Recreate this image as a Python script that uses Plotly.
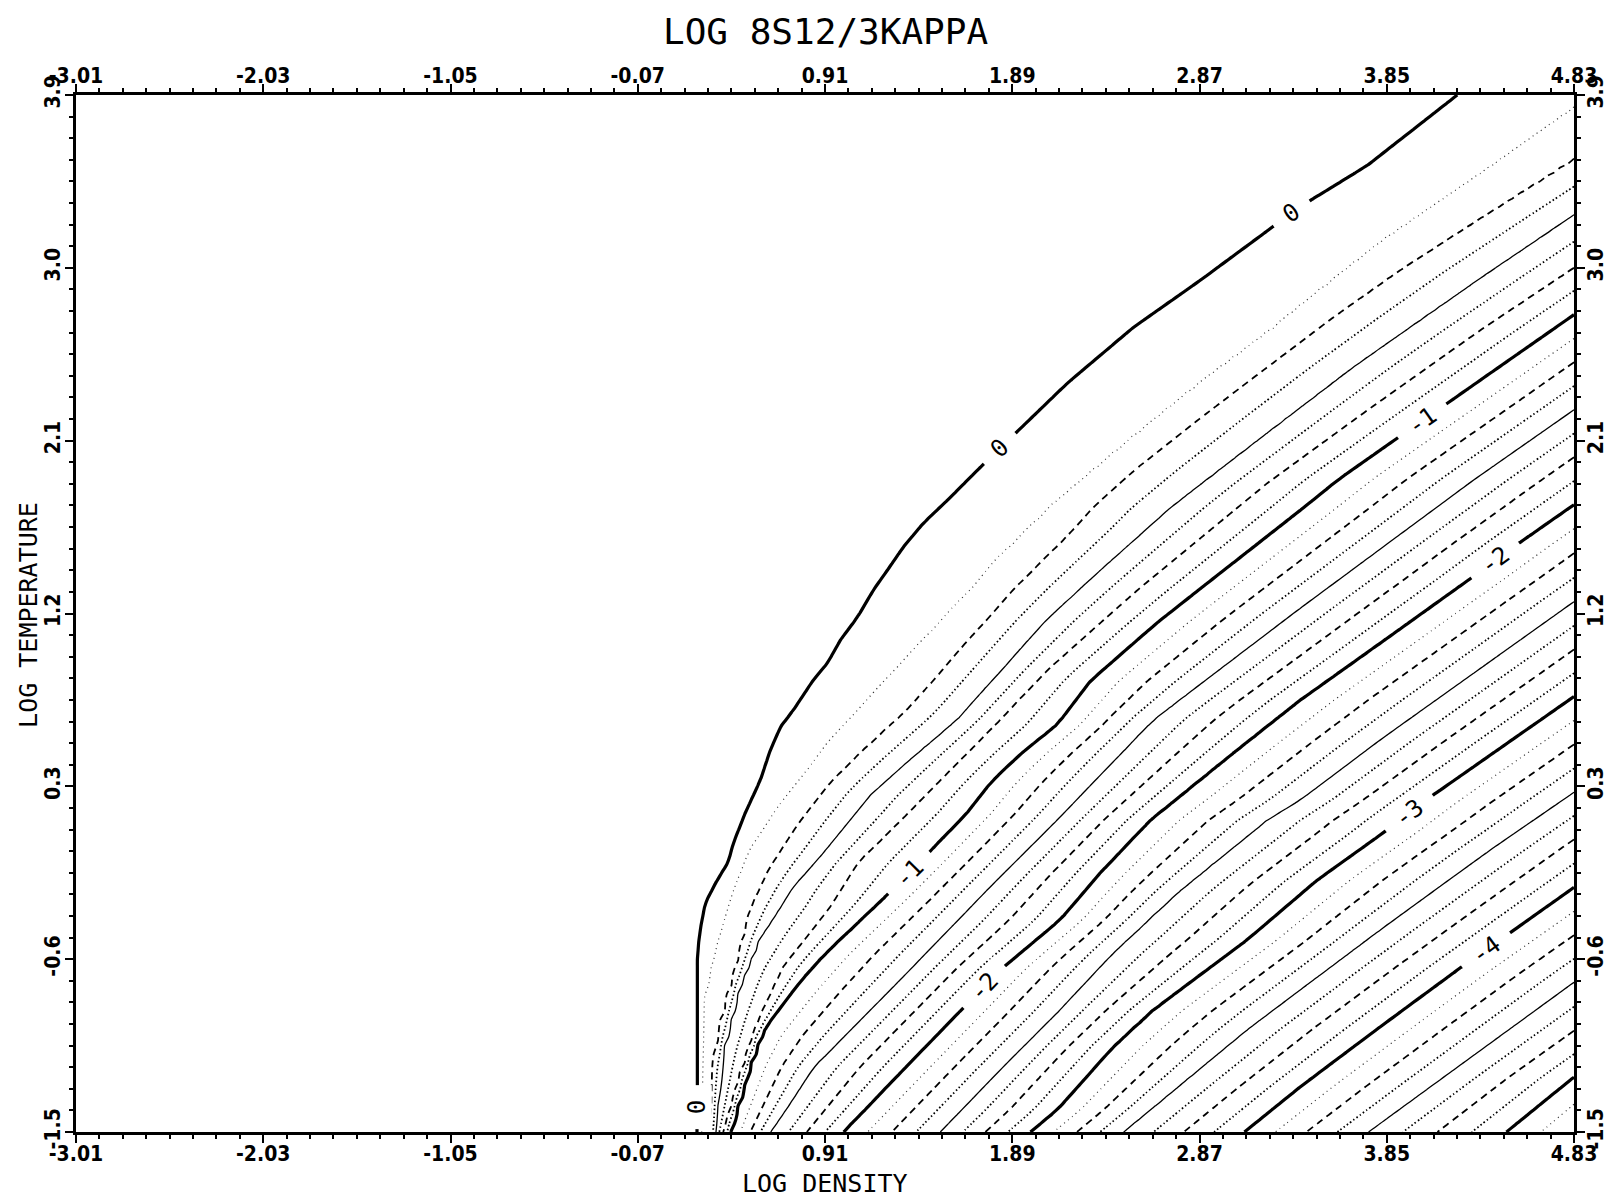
import numpy as np
import plotly.graph_objects as go

TITLE = "LOG 8S12/3KAPPA"
X_TITLE = "LOG DENSITY"
Y_TITLE = "LOG TEMPERATURE"

x_tick_vals = [-3.01, -2.03, -1.05, -0.07, 0.91, 1.89, 2.87, 3.85, 4.83]
x_tick_text = ["-3.01", "-2.03", "-1.05", "-0.07", "0.91", "1.89", "2.87", "3.85", "4.83"]
y_tick_vals = [-1.5, -0.6, 0.3, 1.2, 2.1, 3.0, 3.9]
y_tick_text = ["-1.5", "-0.6", "0.3", "1.2", "2.1", "3.0", "3.9"]

# Contour lines: log density (x) and log temperature (t) per level
lvl_0_x = [0.240, 0.242, 0.242, 0.250, 0.262, 0.284, 0.345, 0.404, 0.431, 0.493, 0.572, 0.624, 0.677, 0.745, 0.849,
           0.923, 0.991, 1.080, 1.163, 1.237, 1.320, 1.425, 1.551, 1.760, 1.896, 2.178, 2.524, 2.874, 3.277, 3.434,
           3.748, 4.219, 4.606]
lvl_0_t = [-1.5, -1.264, -0.603, -0.500, -0.420, -0.307, -0.19, -0.093, 0.006, 0.162, 0.333, 0.489, 0.609, 0.698,
           0.854, 0.942, 1.062, 1.181, 1.322, 1.426, 1.546, 1.671, 1.790, 1.998, 2.128, 2.399, 2.690, 2.935, 3.231,
           3.341, 3.533, 3.9, 4.2]
lvl_0125_x = [0.253, 0.258, 0.274, 0.336, 0.431, 0.504, 0.661, 0.818, 0.923, 1.289, 1.671, 1.791, 2.090, 2.524, 2.874,
              3.225, 3.502, 3.832, 4.329, 4.774, 5.358]
lvl_0125_t = [-1.5, -1.243, -0.811, -0.551, -0.239, -0.046, 0.193, 0.385, 0.526, 0.921, 1.322, 1.462, 1.754, 2.118, 2.399,
              2.659, 2.883, 3.143, 3.481, 3.793, 4.2]
lvl_025_x = [0.309, 0.326, 0.378, 0.451, 0.519, 0.624, 0.776, 0.938, 1.085, 1.357, 1.603, 1.896, 2.210, 2.315, 2.529,
             2.874, 3.225, 3.570, 3.921, 4.329, 4.826, 5.767]
lvl_025_t = [-1.5, -1.160, -0.900, -0.640, -0.343, -0.119, 0.110, 0.318, 0.463, 0.713, 0.994, 1.322, 1.634, 1.754, 1.946,
             2.217, 2.482, 2.742, 2.987, 3.247, 3.559, 4.2]
lvl_05_x = [0.336, 0.378, 0.467, 0.572, 0.745, 0.902, 1.148, 1.336, 1.603, 2.069, 2.335, 2.717, 3.225, 3.675, 4.340,
            4.826, 6.203]
lvl_05_t = [-1.5, -1.071, -0.723, -0.483, -0.223, -0.046, 0.255, 0.422, 0.646, 1.166, 1.410, 1.749, 2.139, 2.482, 2.945,
            3.273, 4.2]
lvl_075_x = [0.378, 0.483, 0.572, 0.692, 0.818, 0.938, 1.085, 1.320, 1.723, 2.074, 2.545, 3.225, 3.748, 4.340, 4.826,
             6.640]
lvl_075_t = [-1.5, -1.160, -0.900, -0.640, -0.483, -0.328, -0.093, 0.136, 0.542, 0.906, 1.322, 1.879, 2.258, 2.675, 2.997,
             4.2]
lvl_1_x = [0.415, 0.519, 0.572, 0.745, 0.902, 1.226, 1.414, 1.655, 1.760, 1.828, 1.948, 2.131, 2.299, 2.561, 2.665,
           3.398, 3.607, 3.905, 4.115, 4.340, 4.826, 6.908]
lvl_1_t = [-1.5, -1.139, -0.993, -0.759, -0.577, -0.275, -0.088, 0.162, 0.297, 0.370, 0.479, 0.625, 0.849, 1.077, 1.166,
           1.738, 1.905, 2.113, 2.258, 2.415, 2.753, 4.2]
lvl_15_x = [0.624, 0.854, 1.305, 1.775, 2.126, 2.628, 3.398, 4.303, 4.826, 7.616]
lvl_15_t = [-1.5, -1.160, -0.707, -0.223, 0.125, 0.646, 1.228, 1.894, 2.258, 4.2]
lvl_2_x = [1.006, 1.305, 1.634, 1.828, 2.142, 2.351, 2.613, 3.047, 3.398, 3.816, 4.313, 4.512, 4.826, 8.326]
lvl_2_t = [-1.5, -1.191, -0.853, -0.655, -0.395, -0.150, 0.125, 0.474, 0.750, 1.046, 1.400, 1.546, 1.764, 4.2]
lvl_25_x = [1.514, 1.828, 2.126, 2.419, 2.754, 3.225, 3.398, 3.816, 4.826, 9.05]
lvl_25_t = [-1.5, -1.176, -0.879, -0.567, -0.255, 0.125, 0.229, 0.542, 1.259, 4.2]
lvl_3_x = [1.985, 2.126, 2.419, 2.628, 3.120, 3.487, 3.832, 4.041, 4.826, 9.76]
lvl_3_t = [-1.5, -1.384, -1.056, -0.863, -0.499, -0.187, 0.058, 0.219, 0.765, 4.2]
lvl_35_x = [2.471, 3.120, 3.398, 3.816, 4.392, 4.826, 10.48]
lvl_35_t = [-1.5, -0.967, -0.759, -0.447, -0.031, 0.266, 4.2]
lvl_4_x = [3.105, 3.398, 3.816, 4.235, 4.444, 4.826, 11.19]
lvl_4_t = [-1.5, -1.264, -0.952, -0.645, -0.499, -0.229, 4.2]
lvl_45_x = [3.754, 4.826, 11.90]
lvl_45_t = [-1.5, -0.723, 4.2]
lvl_5_x = [4.476, 4.826, 12.61]
lvl_5_t = [-1.5, -1.217, 4.2]

contour_levels = [0, -0.125, -0.25, -0.5, -0.75, -1, -1.5, -2, -2.5, -3, -3.5, -4, -4.5, -5]
contour_lines = [(lvl_0_x, lvl_0_t), (lvl_0125_x, lvl_0125_t), (lvl_025_x, lvl_025_t), (lvl_05_x, lvl_05_t),
                 (lvl_075_x, lvl_075_t), (lvl_1_x, lvl_1_t), (lvl_15_x, lvl_15_t), (lvl_2_x, lvl_2_t),
                 (lvl_25_x, lvl_25_t), (lvl_3_x, lvl_3_t), (lvl_35_x, lvl_35_t), (lvl_4_x, lvl_4_t),
                 (lvl_45_x, lvl_45_t), (lvl_5_x, lvl_5_t)]

label_text = ["0", "0", "0", "-1", "-1", "-2", "-2", "-3", "-4"]
label_x = [0.240, 1.825, 3.351, 4.035, 1.352, 4.419, 1.741, 3.967, 4.370]
label_t = [-1.368, 2.061, 3.283, 2.205, -0.150, 1.478, -0.744, 0.162, -0.551]
label_angle = [-90, -44, -35, -35, -45, -36, -46, -38, -36]

# ---- build the z table for the contour trace from the read contour lines ----
x_grid = np.linspace(-3.01, 4.83, 225)
t_grid = np.linspace(-1.5, 3.9, 121)
lv = np.array(contour_levels, dtype=float)
cross = np.empty((t_grid.size, lv.size))
for k, (lx, lt) in enumerate(contour_lines):
    lx = np.asarray(lx, float)
    lt = np.asarray(lt, float)
    o = np.argsort(lt)
    cross[:, k] = np.interp(t_grid, lt[o], lx[o])
cross = np.maximum.accumulate(cross, axis=1) + np.arange(lv.size) * 1e-6
z = np.empty((t_grid.size, x_grid.size))
for j in range(t_grid.size):
    xc = cross[j]
    row = np.interp(x_grid, xc, lv)
    s0 = (lv[0] - lv[1]) / (xc[1] - xc[0])
    left = x_grid < xc[0]
    row[left] = np.minimum(lv[0] + (xc[0] - x_grid[left]) * s0, 1.0)
    s1 = (lv[-2] - lv[-1]) / (xc[-1] - xc[-2])
    right = x_grid > xc[-1]
    row[right] = lv[-1] - (x_grid[right] - xc[-1]) * s1
    z[j] = row

MONO = "DejaVu Sans Mono, monospace"
TICKF = "Liberation Sans Narrow, DejaVu Sans Condensed, Arial Narrow, sans-serif"

fig = go.Figure()

line_styles = [
    (-5.0, 0.0, 1.0, 3.2, "solid", "black"),
    (-4.5, -0.5, 1.0, 1.3, "solid", "black"),
    (-5.25, -0.25, 0.5, 1.8, "7px,5px", "black"),
    (-5.375, -0.375, 0.5, 1.8, "1.5px,2.5px", "black"),
    (-5.625, -0.625, 1.0, 1.8, "1.5px,2.5px", "black"),
    (-5.125, -0.125, 1.0, 1.2, "1px,4px", "#333333"),
]
for start, end, size, w, dash, col in line_styles:
    fig.add_trace(go.Contour(
        x=x_grid, y=t_grid, z=z, autocontour=False,
        contours=dict(start=start, end=end, size=size, coloring="none", showlabels=False),
        line=dict(width=w, dash=dash, color=col, smoothing=0.6),
        showscale=False, hoverinfo="skip"))

fig.add_trace(go.Scatter(x=[None], y=[None], xaxis="x2", yaxis="y2", showlegend=False, hoverinfo="skip"))

for txt, lx, lt, ang in zip(label_text, label_x, label_t, label_angle):
    fig.add_annotation(x=lx, y=lt, xref="x", yref="y", text="\u00a0" + txt + "\u00a0", showarrow=False,
                       textangle=ang, bgcolor="white", borderpad=0,
                       font=dict(family=MONO, size=24, color="black"))

axis_common = dict(showline=True, linewidth=2.5, linecolor="black", ticks="outside", ticklen=8, tickwidth=2,
                   tickcolor="black", showgrid=False, zeroline=False, tickmode="array",
                   tickfont=dict(family=TICKF, size=21, color="black", weight="bold"))
xminor = dict(tick0=-3.01, dtick=0.1225, ticks="outside", ticklen=4, tickwidth=1.5, tickcolor="black", showgrid=False)
yminor = dict(tick0=-1.5, dtick=0.1125, ticks="outside", ticklen=4, tickwidth=1.5, tickcolor="black", showgrid=False)

fig.update_layout(
    width=1611, height=1198,
    margin=dict(l=76, r=37, t=95, b=66, autoexpand=False),
    paper_bgcolor="white", plot_bgcolor="white",
    showlegend=False,
    xaxis=dict(range=[-3.01, 4.83], tickvals=x_tick_vals, ticktext=x_tick_text, minor=xminor,
               ticklabelstandoff=-7, **axis_common),
    xaxis2=dict(range=[-3.01, 4.83], tickvals=x_tick_vals, ticktext=x_tick_text, minor=xminor,
                overlaying="x", side="top", anchor="y", ticklabelstandoff=-7, **axis_common),
    yaxis=dict(range=[-1.5, 3.9], tickvals=y_tick_vals, ticktext=y_tick_text, tickangle=-90, minor=yminor,
               ticklabelstandoff=-3, **axis_common),
    yaxis2=dict(range=[-1.5, 3.9], tickvals=y_tick_vals, ticktext=y_tick_text, tickangle=-90, minor=yminor,
                overlaying="y", side="right", anchor="x", ticklabelstandoff=-7, **axis_common),
)

fig.add_annotation(text=TITLE, x=0.5, y=1.0617, xref="paper", yref="paper", showarrow=False,
                   xanchor="center", yanchor="middle", font=dict(family=MONO, size=36, color="black"))
fig.add_annotation(text=X_TITLE, x=0.5, y=-0.0492, xref="paper", yref="paper", showarrow=False,
                   xanchor="center", yanchor="middle", font=dict(family=MONO, size=25, color="black"))
fig.add_annotation(text=Y_TITLE, x=-0.0314, y=0.4986, xref="paper", yref="paper", showarrow=False, textangle=-90,
                   xanchor="center", yanchor="middle", font=dict(family=MONO, size=25, color="black"))

fig.write_html("out.html")
